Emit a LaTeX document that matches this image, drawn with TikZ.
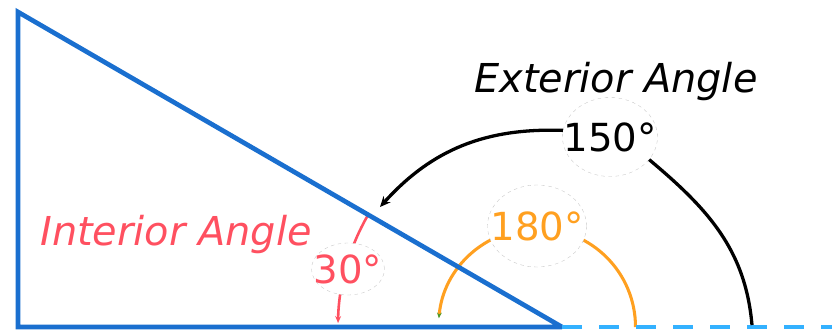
\documentclass[tikz,border=0pt]{standalone}
\usepackage{fontspec}
\setmainfont{DejaVu Sans}
\usetikzlibrary{shapes.geometric, arrows.meta}
\definecolor{triblue}{HTML}{1A6FCF}
\definecolor{lineblue}{HTML}{33B1FF}
\definecolor{intred}{HTML}{FF5060}
\definecolor{arcorange}{HTML}{FFA020}
\definecolor{tipgreen}{HTML}{4C9A2A}

\begin{document}
\begin{tikzpicture}[x=0.03cm, y=0.03cm,
  ring/.style={ellipse, fill=white, draw=gray!45, dashed, line width=0.3pt,
    inner sep=0pt, font=\fontsize{33}{36}\selectfont},
  word/.style={font=\fontsize{34}{40}\selectfont\itshape}]
\useasboundingbox (0,-4) rectangle (832,327);
% corners of the triangle
\coordinate (top) at (18,315);
\coordinate (corner) at (18,0);
\coordinate (apex) at (562,0);
\coordinate (far) at (832,0);
% ends of the arcs
\coordinate (flatfoot) at (635.5,0);
\coordinate (extfoot) at (752,2);
\coordinate (exttip) at (380,120);
% straight angle
\draw[arcorange, line width=2.6pt, -{Stealth[length=5pt, width=4pt, color=tipgreen]}]
  (flatfoot) arc[start angle=0, end angle=175, radius=98.5];
% interior angle
\draw[intred, line width=2.2pt, -{Stealth[length=6pt, width=5pt]}]
  (apex) ++(150:224) arc[start angle=150, end angle=179, radius=224];
% the triangle and the extended side
\draw[triblue, line width=4pt] (apex) -- (top) -- (corner) -- (apex);
\draw[lineblue, line width=4pt, dash pattern=on 0.6cm off 0.51cm] (apex) -- (far);
% labels
\node[ring, minimum width=2.85cm, minimum height=2.37cm] (ext) at (610,190) {\makebox[0pt]{150°}};
\node[ring, text=intred, minimum width=2.19cm, minimum height=1.56cm] (int) at (348,58) {\makebox[0pt]{30°}};
\node[ring, text=arcorange, minimum width=2.97cm, minimum height=2.46cm] (flat) at (537,101) {\makebox[0pt]{180°}};
\node[word, anchor=base] (exttext) at (616,234) {Exterior Angle};
\node[word, text=intred, anchor=base] (inttext) at (176,82) {Interior Angle};
% exterior angle
\draw[line width=2.8pt, -{Stealth[length=9pt, width=8pt]}] (ext.172) to[out=178, in=48] (exttip);
\draw[line width=2.8pt] (ext.-30) to[out=-40, in=95] (extfoot);
\end{tikzpicture}
\end{document}
